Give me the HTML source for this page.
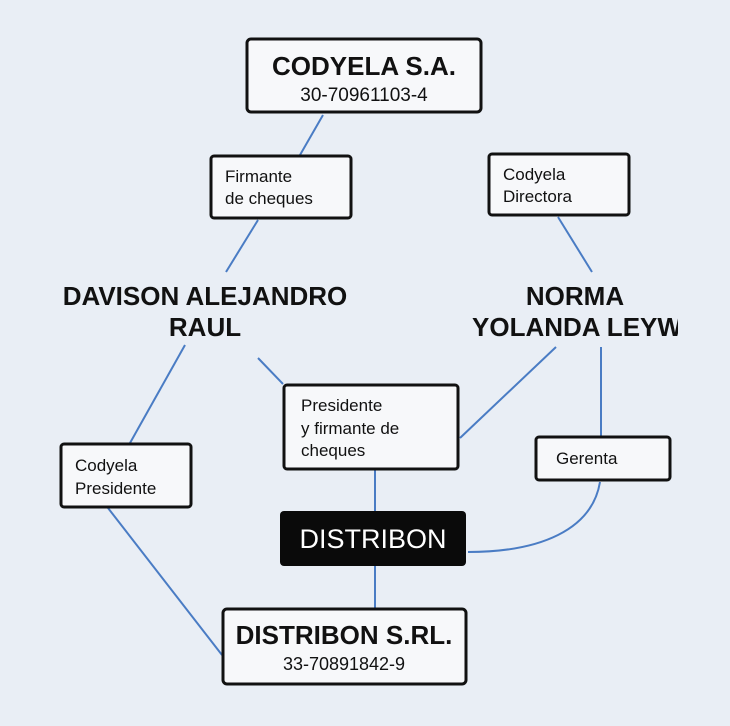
<!DOCTYPE html>
<html><head><meta charset="utf-8"><style>
body{margin:0;background:#e9eef5;}
svg{display:block;font-family:"Liberation Sans",sans-serif;}
</style></head><body>
<svg width="730" height="726" viewBox="0 0 730 726">
<rect width="730" height="726" fill="#e9eef5"/>
<g stroke="#4a7cc4" stroke-width="2" fill="none">
<line x1="323" y1="115" x2="300" y2="155"/>
<line x1="258" y1="220" x2="226" y2="272"/>
<line x1="185" y1="345" x2="130" y2="443"/>
<line x1="258" y1="358" x2="283" y2="384"/>
<line x1="558" y1="217" x2="592" y2="272"/>
<line x1="556" y1="347" x2="460" y2="438"/>
<line x1="601" y1="347" x2="601" y2="436"/>
<line x1="375" y1="470" x2="375" y2="511"/>
<path d="M600 482 C 592 530, 540 552, 468 552"/>
<line x1="375" y1="566" x2="375" y2="608"/>
<line x1="108" y1="508" x2="222" y2="655"/>
</g>
<g fill="#f7f8fa" stroke="#111" stroke-width="3">
<rect x="247" y="39" width="234" height="73" rx="4"/>
<rect x="211" y="156" width="140" height="62" rx="3"/>
<rect x="489" y="154" width="140" height="61" rx="3"/>
<rect x="284" y="385" width="174" height="84" rx="3"/>
<rect x="536" y="437" width="134" height="43" rx="3"/>
<rect x="61" y="444" width="130" height="63" rx="3"/>
<rect x="223" y="609" width="243" height="75" rx="4"/>
</g>
<rect x="280" y="511" width="186" height="55" rx="4" fill="#0a0a0a"/>
<g fill="#111" font-size="17">
<text x="364" y="75" text-anchor="middle" font-size="26" font-weight="bold">CODYELA S.A.</text>
<text x="364" y="101" text-anchor="middle" font-size="19">30-70961103-4</text>
<text x="225" y="182">Firmante</text>
<text x="225" y="204">de cheques</text>
<text x="503" y="180">Codyela</text>
<text x="503" y="202">Directora</text>
<text x="205" y="305" text-anchor="middle" font-size="26" font-weight="bold">DAVISON ALEJANDRO</text>
<text x="205" y="336" text-anchor="middle" font-size="26" font-weight="bold">RAUL</text>
<text x="575" y="305" text-anchor="middle" font-size="26" font-weight="bold">NORMA</text>
<text x="472" y="336" font-size="26" font-weight="bold">YOLANDA LEYW</text>
<text x="301" y="411">Presidente</text>
<text x="301" y="434">y firmante de</text>
<text x="301" y="456">cheques</text>
<text x="556" y="464">Gerenta</text>
<text x="75" y="471">Codyela</text>
<text x="75" y="494">Presidente</text>
<text x="373" y="548" text-anchor="middle" font-size="27" fill="#fff">DISTRIBON</text>
<text x="344" y="644" text-anchor="middle" font-size="26" font-weight="bold">DISTRIBON S.RL.</text>
<text x="344" y="670" text-anchor="middle" font-size="18">33-70891842-9</text>
</g>
<rect x="678" y="300" width="52" height="45" fill="#e9eef5"/>
</svg>
</body></html>
